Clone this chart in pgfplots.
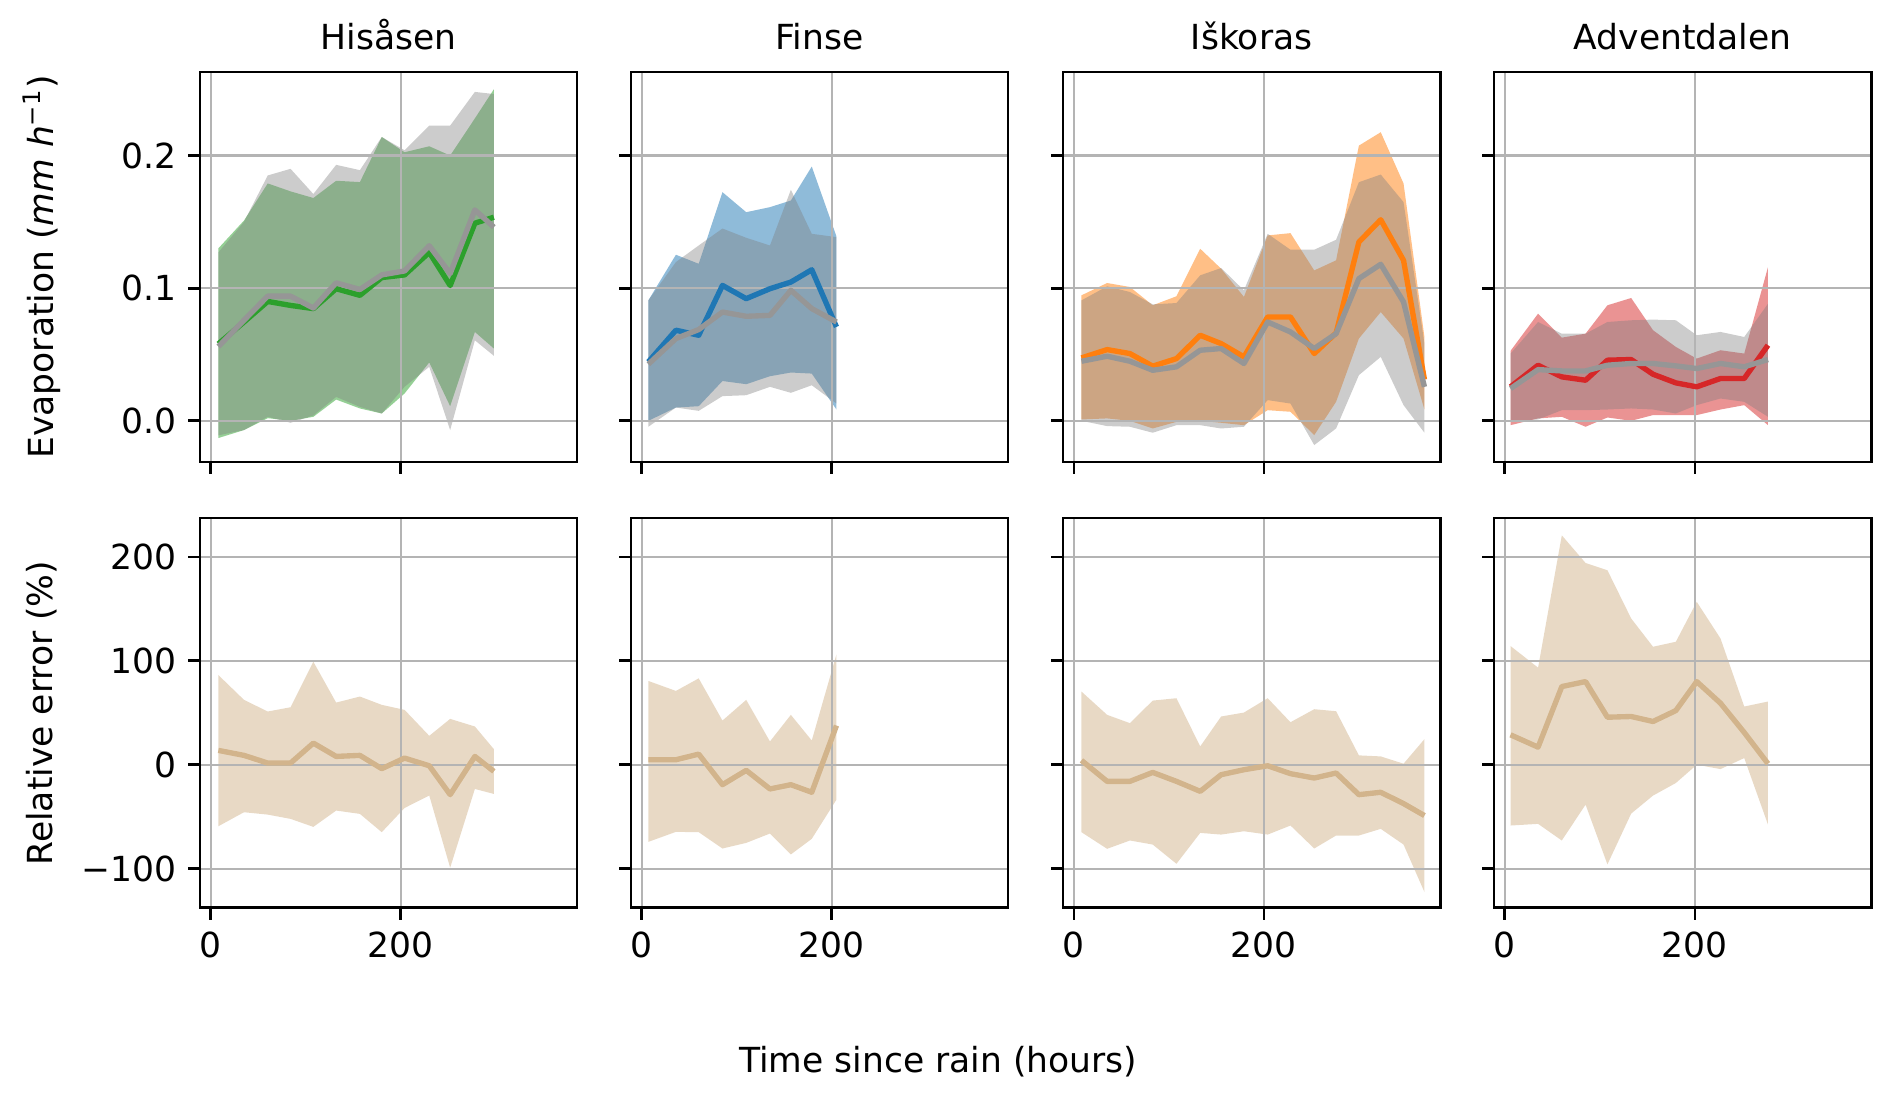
\documentclass[border=0pt]{standalone}
\usepackage{fontspec}
\setmainfont{DejaVu Sans}
\usepackage{pgfplots}
\pgfplotsset{compat=1.18}
\usepackage{pgfplotstable}
\usepgfplotslibrary{fillbetween}

\definecolor{tabblue}{RGB}{31,119,180}
\definecolor{taborange}{RGB}{255,127,14}
\definecolor{tabgreen}{RGB}{44,160,44}
\definecolor{tabred}{RGB}{214,39,40}
\definecolor{tanc}{RGB}{210,180,140}
\definecolor{gridgray}{RGB}{180,180,180}
\definecolor{midgray}{RGB}{128,128,128}
\definecolor{linegray}{RGB}{150,150,150}

% x: hours; m/lo/hi: station evaporation mean and band; gm/glo/ghi: model (grey); r/rlo/rhi: relative error
\pgfplotstableread{
x   m      lo      hi     gm     glo     ghi    r      rlo    rhi
8   0.058  -0.013  0.130  0.056  -0.011  0.127  13.8  -59.2  86.3
35  0.0745 -0.007  0.151  0.0758 -0.007  0.150   9.0  -45.7  62.4
60  0.090   0.002  0.179  0.094   0.003  0.185   1.6  -48.0  51.2
84  0.087   0.000  0.173  0.094  -0.0015 0.190   1.6  -52.1  55.3
108 0.0846  0.003  0.168  0.085   0.004  0.171  20.8  -59.8  99.1
132 0.0996  0.016  0.181  0.104   0.018  0.193   8.0  -44.1  59.8
157 0.0946  0.0093 0.180  0.099   0.0105 0.189   9.0  -47.3  65.6
180 0.108   0.0055 0.214  0.110   0.0055 0.214  -3.8  -64.9  57.6
204 0.110   0.0206 0.2025 0.113   0.0256 0.204   6.4  -41.6  52.8
230 0.127   0.044  0.207  0.132   0.0407 0.2226 -1.0  -29.7  27.8
252 0.102   0.011  0.200  0.111  -0.007  0.2226 -28.8 -99.1  44.1
278 0.149   0.067  0.228  0.159   0.0607 0.248   8.0  -23.3  36.8
298 0.1535  0.0545 0.250  0.146   0.049  0.2464 -6.4  -28.1  15.0
}\tabHis

\pgfplotstableread{
x   m      lo      hi     gm     glo     ghi    r      rlo    rhi
7   0.0444 0.000   0.0908 0.0427 -0.0045 0.0908  4.8  -74.2  80.6
36  0.0683 0.010   0.1252 0.062   0.010  0.1197  4.8  -64.6  71.0
60  0.0645 0.011   0.1184 0.0688  0.0075 0.1322 10.2  -64.9  83.1
85  0.1021 0.030   0.1724 0.082   0.0186 0.145  -19.2  -80.6  42.5
110 0.0921 0.0276  0.1573 0.0788  0.0193 0.138   -5.4  -75.2  62.4
135 0.0996 0.0336  0.1611 0.0795  0.0256 0.1322 -23.3  -66.2  22.4
157 0.1046 0.0364  0.1661 0.0984  0.0211 0.1742 -19.2  -86.3  48.0
179 0.1139 0.0356  0.1917 0.0846  0.0268 0.141  -26.5  -71.3  23.3
205 0.0708 0.0085  0.139  0.0745  0.013  0.1385  37.7  -33.6  106.2
}\tabFin

\pgfplotstableread{
x   m      lo      hi     gm     glo     ghi    r      rlo    rhi
8   0.0474 0.001   0.0946 0.0449  0.000  0.0908   4.2  -64.9  70.4
35  0.0537 0.0018  0.1039 0.0487 -0.004  0.1014 -16.0  -80.9  48.0
59  0.0507 0.000   0.1009 0.0449 -0.0045 0.0971 -16.0  -72.9  40.0
83  0.0412 -0.0058 0.0871 0.0381 -0.009  0.0878  -7.4  -76.8  61.7
108 0.0469 -0.0008 0.0939 0.0407 -0.0033 0.0888 -16.0  -95.3  64.0
133 0.0645 0.000   0.1297 0.0532 -0.0033 0.1097 -25.6  -65.6  17.6
155 0.0582 -0.0015 0.1147 0.0545 -0.0058 0.1152  -9.6  -67.2  46.4
179 0.0482 -0.0033 0.0934 0.0432 -0.0045 0.0984  -4.8  -64.0  50.2
204 0.0783 0.008   0.1398 0.0745  0.0156 0.141   -1.0  -67.2  64.0
228 0.0783 0.0068  0.1415 0.067   0.013  0.129   -8.6  -58.5  40.9
253 0.0507 -0.0108 0.1134 0.0545 -0.0183 0.129  -12.8  -80.6  53.4
276 0.0662 0.0143  0.121  0.0657 -0.0058 0.1365  -8.0  -68.1  51.5
300 0.1348 0.062   0.2075 0.1072  0.0344 0.1799 -28.8  -68.1   9.0
323 0.1516 0.082   0.2176 0.118   0.0482 0.1857 -26.5  -61.7   8.0
347 0.121  0.062   0.179  0.0896  0.0118 0.1649 -37.4  -76.8   1.0
369 0.0311 0.0085  0.0632 0.0256 -0.009  0.0582 -48.9 -122.5  24.6
}\tabIsk

\pgfplotstableread{
x   m      lo      hi     gm     glo     ghi    r      rlo    rhi
6   0.0256 -0.0033 0.0527 0.0243 0.000   0.0507 28.8  -58.5 114.2
35  0.0419 0.0018  0.0808 0.0386 0.001   0.0745 16.9  -56.9  93.4
60  0.0331 0.003   0.0627 0.0376 0.008   0.0657 75.2  -72.9 220.7
85  0.0306 -0.0045 0.0657 0.0376 0.008   0.0657 80.0  -38.4 194.1
108 0.0457 0.0025  0.0871 0.0419 0.0085  0.0745 45.7  -95.9 187.1
133 0.0462 0.000   0.0926 0.0432 0.0093  0.0758 46.4  -47.0 140.7
156 0.0351 0.0043  0.0683 0.0432 0.0085  0.0763 41.6  -29.7 113.5
180 0.0286 0.0043  0.0557 0.0414 0.0055  0.0758 52.1  -17.6 118.3
202 0.0256 0.0043  0.0469 0.0394 0.0118  0.0645 80.0    0.0 156.7
227 0.0319 0.0085  0.0532 0.0432 0.0168  0.067  59.2   -4.2 121.5
252 0.0319 0.0118  0.0507 0.0407 0.0143  0.0632 31.0    6.4  56.0
277 0.057  -0.0033 0.1159 0.0462 0.003   0.0883  1.0  -57.6  60.8
}\tabAdv

\tikzset{fill between/on layer=axis background}
\pgfplotsset{
  base/.style={
    set layers,
    scale only axis, width=126.7pt, height=131pt,
    anchor=north west,
    xmin=-11.3, xmax=385.6,
    xtick={0,200}, xticklabels={0,200},
    grid=major, grid style={draw=gridgray, line width=0.75pt},
    tick align=outside, major tick length=4pt,
    every tick/.style={black, line width=0.9pt},
    axis line style={line width=0.9pt},
    xtick pos=bottom, ytick pos=left,
    /pgf/number format/assume math mode=true,
    title style={at={(0.5,1)}, anchor=base, yshift=1.4pt},
  },
  toprow/.style={base, ymin=-0.031, ymax=0.263, ytick={0,0.1,0.2},
    yticklabels={0.0,0.1,0.2}, xticklabels={}},
  botrow/.style={base, ymin=-137.6, ymax=237.5, ytick={-100,0,100,200},
    yticklabels={−100,0,100,200}},
  noy/.style={yticklabels={}},
}

\newcommand\toppanel[5]{%
\begin{axis}[toprow, at={#3}, title={#4}, #5]
\addplot[name path=hi, draw=none] table[x=x,y=hi]{#1};
\addplot[name path=lo, draw=none] table[x=x,y=lo]{#1};
\addplot[fill=#2, fill opacity=0.5, draw=none] fill between[of=hi and lo];
\addplot[name path=ghi, draw=none] table[x=x,y=ghi]{#1};
\addplot[name path=glo, draw=none] table[x=x,y=glo]{#1};
\addplot[fill=midgray, fill opacity=0.4, draw=none] fill between[of=ghi and glo];
\addplot[#2, line width=1.8pt, line join=round] table[x=x,y=m]{#1};
\addplot[linegray, line width=1.8pt, line join=round] table[x=x,y=gm]{#1};
\end{axis}}

\newcommand\botpanel[3]{%
\begin{axis}[botrow, at={#2}, #3]
\addplot[name path=rhi, draw=none] table[x=x,y=rhi]{#1};
\addplot[name path=rlo, draw=none] table[x=x,y=rlo]{#1};
\addplot[fill=tanc, fill opacity=0.5, draw=none] fill between[of=rhi and rlo];
\addplot[tanc, line width=1.8pt, line join=round] table[x=x,y=r]{#1};
\end{axis}}

\begin{document}
\fontsize{11.6}{13.9}\selectfont
\begin{tikzpicture}
\toppanel{\tabHis}{tabgreen}{(67.2pt,-24.2pt)}{Hisåsen}{}
\toppanel{\tabFin}{tabblue}{(212.0pt,-24.2pt)}{Finse}{noy}
\toppanel{\tabIsk}{taborange}{(357.2pt,-24.2pt)}{Iškoras}{noy}
\toppanel{\tabAdv}{tabred}{(502.0pt,-24.2pt)}{Adventdalen}{noy}
\botpanel{\tabHis}{(67.2pt,-174.0pt)}{}
\botpanel{\tabFin}{(212.0pt,-174.0pt)}{noy}
\botpanel{\tabIsk}{(357.2pt,-174.0pt)}{noy}
\botpanel{\tabAdv}{(502.0pt,-174.0pt)}{noy}
\node[rotate=90, anchor=center] at (14pt,-89.7pt) {Evaporation (\textit{mm h}\textsuperscript{−1})};
\node[rotate=90, anchor=center] at (14pt,-239.6pt) {Relative error (\%)};
\node[anchor=center] at (315.2pt,-356.8pt) {Time since rain (hours)};
\path (0,0) rectangle (635.7pt,-368.9pt);
\end{tikzpicture}
\end{document}
